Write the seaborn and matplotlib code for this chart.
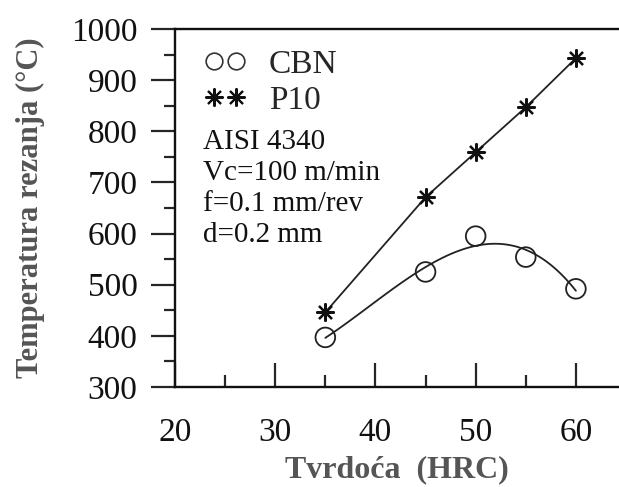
import numpy as np
import pandas as pd
import matplotlib
matplotlib.use("Agg")
import matplotlib.pyplot as plt
import seaborn as sns
from matplotlib.lines import Line2D

hardness = [35, 45, 50, 55, 60]
cbn_temp = [397, 525, 595, 554, 492]
p10_temp = [446, 671, 759, 847, 943]
x_ticks = [20, 30, 40, 50, 60]
y_ticks = [300, 400, 500, 600, 700, 800, 900, 1000]
conditions = ["AISI 4340", "Vc=100 m/min", "f=0.1 mm/rev", "d=0.2 mm"]

sns.set_theme(style="ticks")
plt.rcParams['font.family'] = ['Liberation Serif', 'DejaVu Serif']

df_cbn = pd.DataFrame({"x": hardness, "y": cbn_temp})
df_p10 = pd.DataFrame({"x": hardness, "y": p10_temp})

fig = plt.figure(figsize=(6.19, 4.87), dpi=100)
ax = fig.add_axes([0.2827, 0.2053, 0.7173, 0.7352])

star = (8, 2, 0)
# CBN: cubic fit line + open circles
sns.regplot(data=df_cbn, x="x", y="y", order=3, ci=None, truncate=True,
            scatter=False, line_kws=dict(color="#222222", lw=1.3), ax=ax)
sns.scatterplot(data=df_cbn, x="x", y="y", marker="o", s=200,
                facecolor="none", edgecolor="#222222", linewidth=1.3, ax=ax, zorder=3)
# P10
sns.lineplot(data=df_p10, x="x", y="y", color="#222222", lw=1.3,
             marker=star, markersize=13, markeredgewidth=1.6,
             markeredgecolor="#111111", ax=ax)

ax.set_xlim(20, 64.3)
ax.set_ylim(300, 1000)
ax.set_xticks(x_ticks)
ax.set_yticks(y_ticks)
ax.set_xticks([25, 35, 45, 55], minor=True)
ax.set_yticks([350, 450, 550, 650, 750, 850, 950], minor=True)
ax.tick_params(axis="x", which="major", direction="in", length=17, width=1.6,
               labelsize=24, pad=22)
ax.tick_params(axis="x", which="minor", direction="in", length=9, width=1.6)
ax.tick_params(axis="y", which="major", direction="out", length=17, width=1.6,
               labelsize=24, pad=10)
ax.tick_params(axis="y", which="minor", direction="out", length=8, width=1.6)
for lab in ax.get_xticklabels() + ax.get_yticklabels():
    lab.set_color("#111111")

for s in ["left", "bottom", "top"]:
    ax.spines[s].set_linewidth(1.7)
    ax.spines[s].set_color("#111111")
ax.spines["right"].set_visible(False)

ax.set_xlabel("Tvrdoća  (HRC)", fontsize=23, fontweight="bold", color="#555555", labelpad=5)
ax.set_ylabel("Temperatura rezanja (\u00b0C)", fontsize=22, fontweight="bold",
              color="#555555", labelpad=19)

handles = [Line2D([], [], ls="none", marker="o", markersize=12, markerfacecolor="none",
                  markeredgecolor="#333333", markeredgewidth=1.2),
           Line2D([], [], ls="none", marker=star, markersize=13, markeredgewidth=1.5,
                  markeredgecolor="#111111")]
leg = ax.legend(handles, ["CBN", "P10"], loc="upper left", bbox_to_anchor=(0.035, 0.98),
                numpoints=2, frameon=False, fontsize=24, handlelength=1.25,
                handletextpad=0.7, labelspacing=0.17, borderaxespad=0.0)

ax.text(0.063, 0.72, "\n".join(conditions), transform=ax.transAxes, fontsize=21,
        va="top", ha="left", color="#111111", linespacing=1.25)

fig.savefig("out.png", dpi=100)
